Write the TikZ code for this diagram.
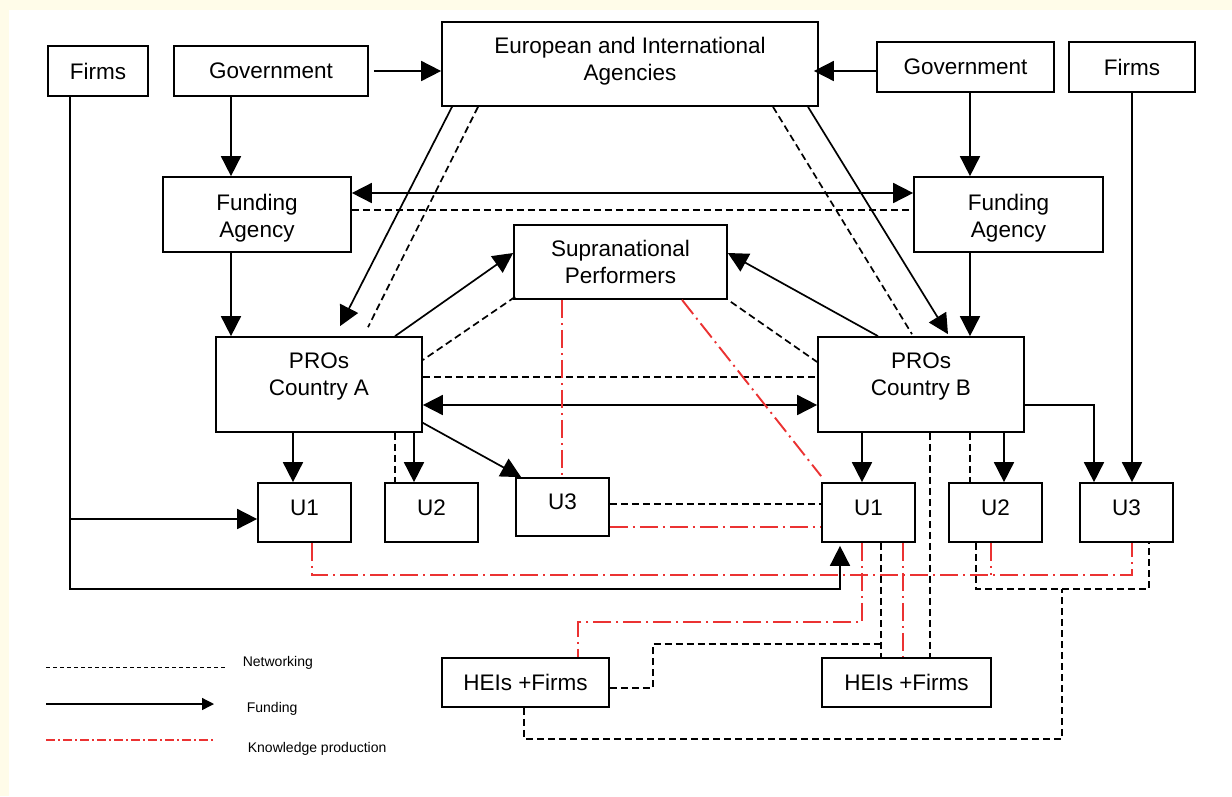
\documentclass[tikz,border=0pt]{standalone}
\usepackage{fontspec}
\setmainfont{Liberation Sans}
\usetikzlibrary{arrows.meta}
\definecolor{knowred}{RGB}{235,50,50}
\definecolor{paper}{RGB}{255,252,233}
\newcommand{\diagfont}{\fontsize{22.5pt}{27pt}\selectfont}
\newcommand{\legfont}{\fontsize{14pt}{16pt}\selectfont}

\begin{document}
\begin{tikzpicture}[x=1pt, y=-1pt, line width=1.7pt,
	>={Triangle[length=20pt,width=20pt]},
	boxnode/.style={draw, align=center, font=\diagfont},
	ubox/.style={boxnode, minimum width=93pt, minimum height=59pt, text depth=10pt},
	fund/.style={->},
	net/.style={dash pattern=on 7pt off 4pt},
	know/.style={knowred, line width=1.9pt, dash pattern=on 18pt off 5pt on 2pt off 5pt}]
			%%Background
			\useasboundingbox (0,0) rectangle (1232,796);
			\fill[paper] (0,0) rectangle (1232,796);
			\fill[white] (9,10) rectangle (1232,796);
			%%Boxes
			\node[boxnode, minimum width=100pt, minimum height=50pt] (firmsL) at (98,71) {Firms};
			\node[boxnode, minimum width=194pt, minimum height=50pt] (govL) at (271,71) {Government};
			\node[boxnode, minimum width=376pt, minimum height=84pt] (eur) at (630,64) {};
			\node[align=center, font=\diagfont] (eurtxt) at (630,61.5) {European and International\\Agencies};
			\node[boxnode, minimum width=177pt, minimum height=50pt] (govR) at (965.5,67) {Government};
			\node[boxnode, minimum width=126pt, minimum height=50pt] (firmsR) at (1132,67) {Firms};
			\node[boxnode, minimum width=188pt, minimum height=75pt] (fundL) at (257,214.5) {};
			\node[align=center, font=\diagfont] (fundLtxt) at (257,218) {Funding\\Agency};
			\node[boxnode, minimum width=189pt, minimum height=75pt] (fundR) at (1008.5,214.5) {};
			\node[align=center, font=\diagfont] (fundRtxt) at (1008.5,218) {Funding\\Agency};
			\node[boxnode, minimum width=213pt, minimum height=74pt] (supra) at (620.5,262) {Supranational\\Performers};
			\node[boxnode, minimum width=206pt, minimum height=95pt] (proA) at (319,384.5) {};
			\node[align=center, font=\diagfont] (proAtxt) at (319,376) {PROs\\Country A};
			\node[boxnode, minimum width=206pt, minimum height=95pt] (proB) at (921,384.5) {};
			\node[align=center, font=\diagfont] (proBtxt) at (921,376) {PROs\\Country B};
			\node[ubox] (u1A) at (304.5,512.5) {U1};
			\node[ubox] (u2A) at (431.5,512.5) {U2};
			\node[ubox, minimum height=58pt] (u3A) at (562.5,507) {U3};
			\node[ubox] (u1B) at (868.5,512.5) {U1};
			\node[ubox] (u2B) at (995.5,512.5) {U2};
			\node[ubox] (u3B) at (1126.5,512.5) {U3};
			\node[boxnode, minimum width=167pt, minimum height=49pt] (heiL) at (525.5,682.5) {HEIs +Firms};
			\node[boxnode, minimum width=169pt, minimum height=49pt] (heiR) at (906.5,682.5) {HEIs +Firms};
			
			%%Funding
			\draw[fund] ([xshift=5pt]govL.east) -- (govL.east -| eur.west);
			\draw[fund] ([yshift=-4pt]govR.west) -- ([yshift=-4pt,xshift=-5pt]govR.west -| eur.east);
			\draw[fund] ([xshift=-40pt]govL.south) -- ([xshift=-40pt]govL.south |- fundL.north);
			\draw[fund] ([xshift=4.5pt]govR.south) -- ([xshift=4.5pt]govR.south |- fundR.north);
			\draw[<->] ([yshift=21.5pt]fundL.east) -- ([yshift=21.5pt]fundL.east -| fundR.west);
			\draw[fund] ([xshift=-26pt]fundL.south) -- ([xshift=-26pt]fundL.south |- proA.north);
			\draw[fund] ([xshift=-38.5pt]fundR.south) -- ([xshift=-38.5pt]fundR.south |- proB.north);
			\draw[fund] ([xshift=-178pt]eur.south) -- ([xshift=21pt,yshift=10pt]proA.north);
			\draw[fund] ([xshift=178pt]eur.south) -- ([xshift=27pt,yshift=2pt]proB.north);
			\draw[fund] ([xshift=76pt]proA.north) -- ([yshift=9pt]supra.west);
			\draw[fund] ([xshift=-43pt]proB.north) -- ([yshift=9pt]supra.east);
			\draw[<->] ([yshift=-20.5pt]proA.east) -- ([yshift=-20.5pt]proA.east -| proB.west);
			\draw[fund] ([xshift=-26pt]proA.south) -- ([xshift=-26pt]proA.south |- u1A.north);
			\draw[fund] ([xshift=95pt]proA.south) -- ([xshift=95pt]proA.south |- u2A.north);
			\draw[fund] ([yshift=10pt]proA.south east) -- ([xshift=6pt]u3A.north west);
			\draw[fund] ([xshift=-59pt]proB.south) -- ([xshift=-59pt]proB.south |- u1B.north);
			\draw[fund] ([xshift=83pt]proB.south) -- ([xshift=83pt]proB.south |- u2B.north);
			\draw[fund] ([yshift=-20.5pt]proB.east) -| ([xshift=-32.5pt]u3B.north);
			\draw[fund] (firmsR.south) -- (firmsR.south |- u3B.north);
			\draw[fund] ([xshift=-28pt]firmsL.south) |- ([yshift=-6.5pt]u1A.west);
			\draw[fund] ([xshift=-28pt]firmsL.south) |- ([xshift=-28.5pt,yshift=-46pt]u1B.south) -- ([xshift=-28.5pt,yshift=-3pt]u1B.south);
			
			%%Networking
			\draw[net] ([yshift=4.5pt]fundL.east) -- ([yshift=4.5pt]fundL.east -| fundR.west);
			\draw[net] ([xshift=-152pt]eur.south) -- ([xshift=49pt,yshift=9pt]proA.north);
			\draw[net] ([xshift=143pt]eur.south) -- ([xshift=-9pt,yshift=2pt]proB.north);
			\draw[net] ([xshift=2pt,yshift=3pt]supra.south west) -- ([yshift=24.5pt]proA.east);
			\draw[net] ([xshift=3pt,yshift=-2pt]supra.south east) -- ([yshift=22.5pt]proB.west);
			\draw[net] ([yshift=7.5pt]proA.east) -- ([yshift=7.5pt]proA.east -| proB.west);
			\draw[net] ([xshift=76pt]proA.south) -- ([xshift=76pt]proA.south |- u2A.north);
			\draw[net] ([yshift=3pt]u3A.east) -- ([yshift=3pt]u3A.east -| u1B.west);
			\draw[net] ([xshift=49pt]proB.south) -- ([xshift=49pt]proB.south |- u2B.north);
			\draw[net] ([xshift=9pt]proB.south) -- ([xshift=9pt]proB.south |- heiR.north);
			\draw[net] ([xshift=12.5pt]u1B.south) -- ([xshift=12.5pt]u1B.south |- heiR.north);
			\draw[net] ([yshift=-5.5pt]heiL.east) -| ([xshift=-215.5pt,yshift=-101pt]u1B.south) -- ([xshift=12.5pt,yshift=-101pt]u1B.south);
			\draw[net] ([xshift=-19.5pt]u2B.south) |- ([xshift=22.5pt,yshift=-46pt]u3B.south) -- ([xshift=22.5pt]u3B.south);
			\draw[net] ([xshift=-1.5pt]heiL.south) |- ([xshift=-64.5pt,yshift=-196pt]u3B.south) -- ([xshift=-64.5pt,yshift=-46pt]u3B.south);
			
			%%Knowledge production
			\draw[know] ([xshift=-58.5pt]supra.south) -- ([xshift=-58.5pt]supra.south |- u3A.north);
			\draw[know] ([xshift=61.5pt]supra.south) -- ([yshift=6pt]u1B.north west);
			\draw[know] ([yshift=-20pt]u3A.east) -- ([yshift=-20pt]u3A.east -| u1B.west);
			\draw[know] ([xshift=7.5pt]u1A.south) |- ([xshift=5.5pt,yshift=-32pt]u3B.south) -- ([xshift=5.5pt]u3B.south);
			\draw[know] ([xshift=-4.5pt]u2B.south) -- ([xshift=-4.5pt,yshift=-32pt]u2B.south);
			\draw[know] ([xshift=-6.5pt]u1B.south) |- ([xshift=52.5pt,yshift=35pt]heiL.north) -- ([xshift=52.5pt]heiL.north);
			\draw[know] ([xshift=34.5pt]u1B.south) -- ([xshift=34.5pt]u1B.south |- heiR.north);
			
			%%Legend
			\coordinate (netS) at (46,667);
			\coordinate (netE) at (225,667);
			\coordinate (funS) at (46,704);
			\coordinate (funE) at (214,704);
			\coordinate (knoS) at (46,740);
			\coordinate (knoE) at (214,740);
			\draw[line width=1pt, dash pattern=on 4pt off 3pt] (netS) -- (netE);
			\draw[line width=1.3pt, -{Triangle[length=12pt,width=12pt]}] (funS) -- (funE);
			\draw[line width=1.3pt, knowred, dash pattern=on 9pt off 3pt on 2pt off 3pt] (knoS) -- (knoE);
			\node[anchor=west, font=\legfont, inner sep=0pt] (netlab) at (242,663) {Networking};
			\node[anchor=west, font=\legfont, inner sep=0pt] (funlab) at (246,709) {Funding};
			\node[anchor=west, font=\legfont, inner sep=0pt] (knolab) at (247,749) {Knowledge production};
\end{tikzpicture}
\end{document}
